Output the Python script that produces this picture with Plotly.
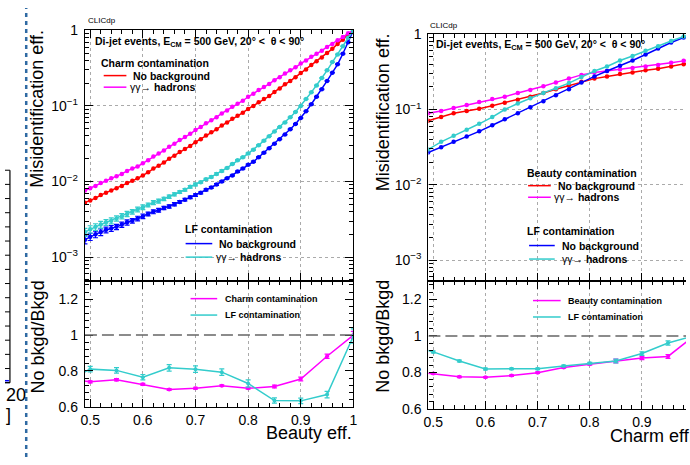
import plotly.graph_objects as go

W, H = 690, 465
FONT = "Liberation Sans, Arial, Helvetica, sans-serif"

# ---------------- data: left plot (beauty tagging) ----------------
beauty_eff = [0.49, 0.50, 0.51, 0.52, 0.53, 0.54, 0.55, 0.56, 0.57, 0.58,
              0.59, 0.60, 0.61, 0.62, 0.63, 0.64, 0.65, 0.66, 0.67, 0.68,
              0.69, 0.70, 0.71, 0.72, 0.73, 0.74, 0.75, 0.76, 0.77, 0.78,
              0.79, 0.80, 0.81, 0.82, 0.83, 0.84, 0.85, 0.86, 0.87, 0.88,
              0.89, 0.90, 0.91, 0.92, 0.93, 0.94, 0.95, 0.96, 0.97, 0.98,
              0.99, 1.00]
charm_mis_nobkg = [5.25e-3, 5.62e-3, 6.03e-3, 6.61e-3, 7.08e-3, 7.59e-3, 8.13e-3, 8.71e-3, 9.55e-3, 1.02e-2,
                   1.10e-2, 1.20e-2, 1.32e-2, 1.48e-2, 1.62e-2, 1.78e-2, 2.00e-2, 2.19e-2, 2.45e-2, 2.69e-2,
                   2.95e-2, 3.31e-2, 3.63e-2, 4.07e-2, 4.47e-2, 4.90e-2, 5.50e-2, 6.03e-2, 6.76e-2, 7.41e-2,
                   8.13e-2, 9.12e-2, 0.100, 0.112, 0.123, 0.135, 0.153, 0.170, 0.193, 0.214,
                   0.240, 0.272, 0.302, 0.347, 0.389, 0.437, 0.501, 0.569, 0.661, 0.750,
                   0.871, 1.0]
charm_mis_gg = [7.59e-3, 8.13e-3, 8.71e-3, 9.55e-3, 1.02e-2, 1.10e-2, 1.17e-2, 1.26e-2, 1.38e-2, 1.48e-2,
                1.58e-2, 1.74e-2, 1.91e-2, 2.14e-2, 2.34e-2, 2.57e-2, 2.88e-2, 3.16e-2, 3.55e-2, 3.89e-2,
                4.27e-2, 4.79e-2, 5.25e-2, 5.89e-2, 6.46e-2, 7.08e-2, 7.94e-2, 8.71e-2, 9.77e-2, 0.107,
                0.117, 0.132, 0.145, 0.162, 0.178, 0.195, 0.219, 0.240, 0.269, 0.295,
                0.324, 0.363, 0.398, 0.447, 0.490, 0.537, 0.603, 0.661, 0.741, 0.813,
                0.912, 1.0]
lf_mis_nobkg = [1.70e-3, 1.86e-3, 2.00e-3, 2.14e-3, 2.29e-3, 2.40e-3, 2.51e-3, 2.69e-3, 2.88e-3, 3.02e-3,
                3.24e-3, 3.47e-3, 3.72e-3, 3.98e-3, 4.17e-3, 4.47e-3, 4.68e-3, 5.01e-3, 5.37e-3, 5.75e-3,
                6.17e-3, 6.61e-3, 7.08e-3, 7.76e-3, 8.32e-3, 9.12e-3, 1.00e-2, 1.10e-2, 1.20e-2, 1.35e-2,
                1.48e-2, 1.66e-2, 1.82e-2, 2.09e-2, 2.40e-2, 2.75e-2, 3.16e-2, 3.63e-2, 4.17e-2, 4.90e-2,
                5.75e-2, 6.92e-2, 8.51e-2, 0.105, 0.132, 0.166, 0.214, 0.275, 0.355, 0.490,
                0.692, 1.0]
lf_mis_gg = [2.14e-3, 2.34e-3, 2.51e-3, 2.69e-3, 2.88e-3, 3.02e-3, 3.24e-3, 3.47e-3, 3.72e-3, 3.98e-3,
             4.27e-3, 4.57e-3, 4.90e-3, 5.25e-3, 5.50e-3, 5.89e-3, 6.31e-3, 6.76e-3, 7.24e-3, 7.76e-3,
             8.51e-3, 9.12e-3, 9.77e-3, 1.07e-2, 1.15e-2, 1.26e-2, 1.38e-2, 1.51e-2, 1.70e-2, 1.91e-2,
             2.09e-2, 2.34e-2, 2.63e-2, 3.02e-2, 3.47e-2, 3.98e-2, 4.57e-2, 5.25e-2, 6.03e-2, 7.08e-2,
             8.32e-2, 0.100, 0.123, 0.151, 0.186, 0.234, 0.295, 0.380, 0.479, 0.617,
             0.794, 1.0]
# relative statistical uncertainty of the LF points (only the first ones are visible)
lf_rel_err = [0.12, 0.11, 0.10, 0.10, 0.09, 0.09, 0.08, 0.08, 0.08, 0.07,
              0.07, 0.07, 0.06, 0.06, 0.06, 0.05, 0.05, 0.05, 0.04, 0.04,
              0.04, 0.04, 0.03, 0.03, 0.03, 0.03, 0.03, 0.02, 0.02, 0.02,
              0.02, 0.02, 0.02, 0.02, 0.02, 0.01, 0.01, 0.01, 0.01, 0.01,
              0.01, 0.01, 0.01, 0.01, 0.01, 0.01, 0.01, 0.01, 0.01, 0.01,
              0.01, 0.0]

ratio_beauty_eff = [0.45, 0.50, 0.55, 0.60, 0.65, 0.70, 0.75, 0.80, 0.85, 0.90, 0.95, 1.00]
charm_ratio = [0.76, 0.739, 0.751, 0.725, 0.696, 0.704, 0.718, 0.703, 0.713, 0.755, 0.882, 1.0]
charm_ratio_err = [0.006, 0.006, 0.006, 0.006, 0.005, 0.005, 0.005, 0.005, 0.008, 0.010, 0.012, 0.02]
lf_ratio_b = [0.735, 0.810, 0.803, 0.765, 0.817, 0.810, 0.793, 0.730, 0.635, 0.633, 0.668, 0.995]
lf_ratio_b_err = [0.02, 0.015, 0.015, 0.015, 0.018, 0.018, 0.018, 0.02, 0.015, 0.015, 0.018, 0.04]

# ---------------- data: right plot (charm tagging) ----------------
charm_eff = [0.490, 0.515, 0.539, 0.564, 0.588, 0.613, 0.637, 0.662, 0.686, 0.711, 0.735,
             0.760, 0.784, 0.809, 0.833, 0.858, 0.882, 0.907, 0.931, 0.956, 0.980, 1.000]
beauty_mis_nobkg = [7.08e-2, 7.94e-2, 8.91e-2, 9.55e-2, 0.102, 0.112, 0.123, 0.135, 0.148, 0.166, 0.186,
                    0.209, 0.234, 0.257, 0.275, 0.295, 0.309, 0.331, 0.347, 0.372, 0.398, 0.427]
beauty_mis_gg = [8.91e-2, 9.55e-2, 0.105, 0.115, 0.126, 0.138, 0.148, 0.166, 0.182, 0.204, 0.229,
                 0.257, 0.288, 0.309, 0.324, 0.339, 0.355, 0.372, 0.389, 0.417, 0.442, 0.468]
lfc_mis_nobkg = [2.69e-2, 3.16e-2, 3.72e-2, 4.37e-2, 5.13e-2, 6.17e-2, 7.41e-2, 8.91e-2, 0.107, 0.129, 0.155,
                 0.186, 0.229, 0.275, 0.324, 0.380, 0.447, 0.537, 0.646, 0.776, 0.902, 1.0]
lfc_mis_gg = [2.95e-2, 3.72e-2, 4.47e-2, 5.37e-2, 6.46e-2, 7.94e-2, 0.100, 0.120, 0.141, 0.166, 0.191,
              0.224, 0.269, 0.324, 0.372, 0.447, 0.513, 0.603, 0.692, 0.813, 0.933, 1.0]

ratio_charm_eff = [0.45, 0.50, 0.55, 0.60, 0.65, 0.70, 0.75, 0.80, 0.85, 0.90, 0.95, 1.00]
beauty_ratio = [0.808, 0.793, 0.775, 0.773, 0.782, 0.798, 0.827, 0.844, 0.862, 0.878, 0.887, 1.0]
beauty_ratio_err = [0.005, 0.005, 0.004, 0.004, 0.004, 0.004, 0.004, 0.005, 0.010, 0.008, 0.010, 0.02]
lf_ratio_c = [0.952, 0.912, 0.862, 0.818, 0.819, 0.819, 0.835, 0.850, 0.862, 0.903, 0.961, 1.0]
lf_ratio_c_err = [0.006, 0.005, 0.005, 0.005, 0.004, 0.004, 0.004, 0.005, 0.010, 0.010, 0.012, 0.02]

x_ticks = [0.5, 0.6, 0.7, 0.8, 0.9, 1.0]
x_tick_text = ["0.5", "0.6", "0.7", "0.8", "0.9", "1"]
y_log_ticks = [1e-3, 1e-2, 1e-1, 1.0]
y_log_text = ["10<sup>\u22123</sup>", "10<sup>\u22122</sup>", "10<sup>\u22121</sup>", "1"]
r_ticks = [0.6, 0.8, 1.0, 1.2]
r_tick_text = ["0.6", "0.8", "1", "1.2"]

RED, MAG, BLUE, CYAN = "#ff0000", "#ff00ff", "#0000ff", "#33cccc"


def X(px):
    return px / W


def Y(py):
    return 1 - py / H


fig = go.Figure()


def curve(x, y, color, xa, ya, err=None, size=4.5):
    tr = dict(x=x, y=y, mode="lines+markers", xaxis=xa, yaxis=ya,
              line=dict(color=color, width=1.5),
              marker=dict(color=color, size=size, symbol="circle"),
              showlegend=False, hoverinfo="skip")
    if err is not None:
        tr["error_y"] = dict(type="data", array=err, color=color, thickness=1.2, width=2.5, visible=True)
    fig.add_trace(go.Scatter(**tr))


lf_nobkg_err = [v * r for v, r in zip(lf_mis_nobkg, lf_rel_err)]
lf_gg_err = [v * r for v, r in zip(lf_mis_gg, lf_rel_err)]

curve(beauty_eff, charm_mis_nobkg, RED, "x", "y")
curve(beauty_eff, charm_mis_gg, MAG, "x", "y")
curve(beauty_eff, lf_mis_nobkg, BLUE, "x", "y", lf_nobkg_err)
curve(beauty_eff, lf_mis_gg, CYAN, "x", "y", lf_gg_err)
curve(ratio_beauty_eff, charm_ratio, MAG, "x2", "y2", charm_ratio_err, 4)
curve(ratio_beauty_eff, lf_ratio_b, CYAN, "x2", "y2", lf_ratio_b_err, 4)

curve(charm_eff, beauty_mis_nobkg, RED, "x3", "y3")
curve(charm_eff, beauty_mis_gg, MAG, "x3", "y3")
curve(charm_eff, lfc_mis_nobkg, BLUE, "x3", "y3")
curve(charm_eff, lfc_mis_gg, CYAN, "x3", "y3")
curve(ratio_charm_eff, beauty_ratio, MAG, "x4", "y4", beauty_ratio_err, 4)
curve(ratio_charm_eff, lf_ratio_c, CYAN, "x4", "y4", lf_ratio_c_err, 4)

tickfont = dict(family=FONT, size=14, color="black")
x_minor = [round(0.50 + 0.02 * i, 2) for i in range(26)]
log_minor = [m * 10.0 ** e for e in (-4, -3, -2, -1) for m in range(2, 10)]
r_minor = [round(0.6 + 0.04 * i, 2) for i in range(18)]


def xax(dom, rng, labels, anchor, grid=True, mirror="allticks"):
    return dict(domain=dom, range=rng, anchor=anchor, showline=True, linecolor="black", linewidth=1.3,
                mirror=mirror, ticks="inside", ticklen=8, tickwidth=1, tickcolor="black",
                tickmode="array", tickvals=x_ticks, ticktext=x_tick_text, showticklabels=labels,
                tickfont=tickfont, showgrid=grid, gridcolor="#aaaaaa", griddash="dot", gridwidth=1,
                zeroline=False,
                minor=dict(ticks="inside", ticklen=4, tickwidth=1, tickcolor="black",
                           tickmode="array", tickvals=x_minor, showgrid=False))


def ylog(dom, rng, anchor, mirror="allticks"):
    return dict(domain=dom, type="log", range=rng, anchor=anchor, showline=True, linecolor="black",
                linewidth=1.3, mirror=mirror, ticks="inside", ticklen=8, tickwidth=1, tickcolor="black",
                tickmode="array", tickvals=y_log_ticks, ticktext=y_log_text, tickfont=tickfont,
                showgrid=True, gridcolor="#aaaaaa", griddash="dot", gridwidth=1, zeroline=False,
                ticklabelstandoff=3,
                minor=dict(ticks="inside", ticklen=4, tickwidth=1, tickcolor="black",
                           tickmode="array", tickvals=log_minor, showgrid=False))


def yrat(dom, anchor, mirror="allticks"):
    return dict(domain=dom, range=[0.6, 1.3], anchor=anchor, showline=True, linecolor="black",
                linewidth=1.3, mirror=mirror, ticks="inside", ticklen=8, tickwidth=1, tickcolor="black",
                tickmode="array", tickvals=r_ticks, ticktext=r_tick_text, tickfont=tickfont,
                showgrid=False, zeroline=False, ticklabelstandoff=3,
                minor=dict(ticks="inside", ticklen=4, tickwidth=1, tickcolor="black",
                           tickmode="array", tickvals=r_minor, showgrid=False))


LX = [X(81), X(353)]
RX = [X(429), 1.0]
fig.update_layout(
    width=W, height=H, margin=dict(l=0, r=0, t=0, b=0),
    paper_bgcolor="white", plot_bgcolor="white",
    font=dict(family=FONT, color="black"),
    xaxis=xax(LX, [0.49, 1.0], False, "y"),
    yaxis=ylog([Y(283), Y(22.3)], [-3.32, 0.01], "x"),
    xaxis2=xax(LX, [0.49, 1.0], True, "y2"),
    yaxis2=yrat([Y(413), Y(283)], "x2"),
    xaxis3=xax(RX, [0.4906, 0.9845], False, "y3"),
    yaxis3=ylog([Y(283), Y(26.7)], [-3.28, 0.005], "x3", mirror=False),
    xaxis4=xax(RX, [0.4906, 0.9845], True, "y4"),
    yaxis4=yrat([Y(415), Y(283)], "x4", mirror=False),
)

shapes = []
# dashed reference lines at ratio 1
shapes.append(dict(type="line", xref="x2", yref="y2", x0=0.49, x1=1.0, y0=1, y1=1,
                   line=dict(color="#666666", width=1.5, dash="12px,5px")))
shapes.append(dict(type="line", xref="x4", yref="y4", x0=0.4906, x1=0.9845, y0=1, y1=1,
                   line=dict(color="#666666", width=1.5, dash="12px,5px")))


def sample(x0, x1, y, color):
    shapes.append(dict(type="line", xref="paper", yref="paper", x0=X(x0), x1=X(x1), y0=Y(y), y1=Y(y),
                       line=dict(color=color, width=1.5)))


sample(100, 123, 70, RED)
sample(100, 123, 82, MAG)
sample(183, 210, 244, BLUE)
sample(183, 210, 258, CYAN)
sample(188, 215, 301, MAG)
sample(188, 215, 318, CYAN)
sample(530, 553, 184, RED)
sample(530, 553, 196, MAG)
sample(531, 557, 246, BLUE)
sample(531, 557, 260, CYAN)
sample(535, 563, 303, MAG)
sample(535, 563, 320, CYAN)

# separator (dotted blue) and remains of the neighbouring plot at the left edge
shapes.append(dict(type="line", xref="paper", yref="paper", x0=X(21.5), x1=X(21.5), y0=0, y1=1,
                   line=dict(color="#2f6aa3", width=2.5, dash="4px,4px")))
shapes.append(dict(type="line", xref="paper", yref="paper", x0=X(5), x1=X(5), y0=Y(168), y1=Y(388),
                   line=dict(color="black", width=1.2)))
for k in range(16):
    yy = 168 + k * 14.67
    shapes.append(dict(type="line", xref="paper", yref="paper", x0=0, x1=X(5), y0=Y(yy), y1=Y(yy),
                       line=dict(color="black", width=1)))
shapes.append(dict(type="line", xref="paper", yref="paper", x0=0, x1=X(5), y0=Y(388), y1=Y(388),
                   line=dict(color="black", width=1.2)))
shapes.append(dict(type="line", xref="paper", yref="paper", x0=0, x1=X(4), y0=Y(386), y1=Y(386),
                   line=dict(color="#0000ff", width=1.5)))

fig.update_layout(shapes=shapes)

ann = []


def txt(x, y, s, size=10.5, anchor="left", angle=0, yanchor="middle"):
    ann.append(dict(x=X(x), y=Y(y), xref="paper", yref="paper", text=s, showarrow=False,
                    xanchor=anchor, yanchor=yanchor, textangle=angle,
                    font=dict(family=FONT, size=size, color="black")))


# left plot texts
txt(82, 13, "CLICdp", 8)
txt(89, 35, "<b>Di-jet events, E<sub>CM</sub> = 500 GeV, 20° &lt;  θ &lt; 90°</b>", 10.5)
txt(95, 57, "<b>Charm contamination</b>")
txt(128, 70, "<b>No background</b>")
txt(125, 82, "γγ→ <b>hadrons</b>")
txt(180, 229, "<b>LF contamination</b>")
txt(215, 244, "<b>No background</b>")
txt(212, 258, "γγ→ <b>hadrons</b>")
txt(221, 301, "<b>Charm contamination</b>", 9)
txt(221, 318, "<b>LF contamination</b>", 9)
txt(33, 21, "Misidentification eff.", 18, "center", -90, "top")
txt(33, 280, "No bkgd/Bkgd", 18, "center", -90, "top")
txt(354, 440, "Beauty eff.", 18, "right")

# right plot texts
txt(429, 18, "CLICdp", 8)
txt(435, 38, "<b>Di-jet events, E<sub>CM</sub> = 500 GeV, 20° &lt;  θ &lt; 90°</b>", 10.5)
txt(527, 171, "<b>Beauty contamination</b>")
txt(558, 184, "<b>No background</b>")
txt(554, 196, "γγ→ <b>hadrons</b>")
txt(527, 231, "<b>LF contamination</b>")
txt(562, 246, "<b>No background</b>")
txt(562, 260, "γγ→ <b>hadrons</b>")
txt(568, 303, "<b>Beauty contamination</b>", 9)
txt(568, 320, "<b>LF contamination</b>", 9)
txt(383, 24, "Misidentification eff.", 18, "center", -90, "top")
txt(383, 280, "No bkgd/Bkgd", 18, "center", -90, "top")
txt(700, 443, "Charm eff.", 18, "right")

# neighbouring plot remains
txt(-1, 401, "20", 18)
txt(-1, 421, "]", 18)

fig.update_layout(annotations=ann)
fig.write_html("out.html", config={"displayModeBar": False},
               post_script="document.body.style.margin='0';document.body.style.overflow='hidden';")
